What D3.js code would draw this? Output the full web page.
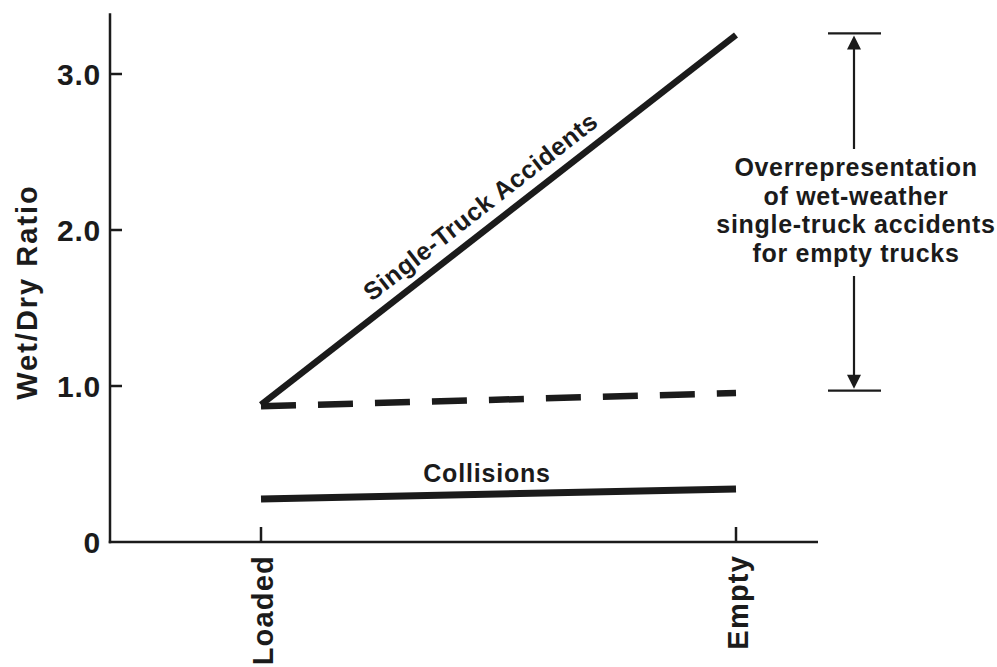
<!DOCTYPE html>
<html lang="en">
<head>
<meta charset="UTF-8">
<title>Wet/Dry Ratio - Loaded vs Empty</title>
<script src="https://d3js.org/d3.v7.min.js"></script>
<style>
    body { margin: 0; background: #fff; }
    svg { display: block; }
    text { font-family: "Liberation Sans", Arial, Helvetica, sans-serif; font-weight: bold; fill: #1b1b1b; }
</style>
</head>
<body>
<svg id="chart" width="997" height="667"></svg>
<script>
// data
const categories = ["Loaded", "Empty"];
const singleTruck = [0.88, 3.25];
const dashedRef = [0.87, 0.955];
const collisions = [0.275, 0.34];
const yTicks = [0, 1, 2, 3];
const yTickLabels = ["0", "1.0", "2.0", "3.0"];
const bracketRange = [0.97, 3.26];
const noteLines = ["Overrepresentation", "of wet-weather", "single-truck accidents", "for empty trucks"];

const ink = "#1b1b1b";
const svg = d3.select("#chart");

const x = d3.scalePoint().domain(categories).range([261, 736]);
const y = d3.scaleLinear().domain([0, 3]).range([542, 74]);
const axisLeft = 110, axisRight = 818, yTop = 3.39;

// axes
svg.append("line")
    .attr("x1", axisLeft).attr("x2", axisLeft)
    .attr("y1", y(yTop)).attr("y2", y(0) + 1.25)
    .attr("stroke", ink).attr("stroke-width", 2.5);
svg.append("line")
    .attr("x1", axisLeft - 1.25).attr("x2", axisRight)
    .attr("y1", y(0)).attr("y2", y(0))
    .attr("stroke", ink).attr("stroke-width", 2.5);

// y ticks (pointing inward)
svg.selectAll(".ytick").data(yTicks.slice(1)).enter().append("line")
    .attr("x1", axisLeft).attr("x2", axisLeft + 12)
    .attr("y1", d => y(d)).attr("y2", d => y(d))
    .attr("stroke", ink).attr("stroke-width", 2.5);
svg.selectAll(".ylab").data(yTicks).enter().append("text")
    .attr("x", 101).attr("y", d => y(d)).attr("dy", "0.36em")
    .attr("text-anchor", "end")
    .style("font-size", "30px").style("letter-spacing", "0.8px")
    .text((d, i) => yTickLabels[i]);

// x ticks
svg.selectAll(".xtick").data(categories).enter().append("line")
    .attr("x1", d => x(d)).attr("x2", d => x(d))
    .attr("y1", y(0)).attr("y2", y(0) - 15)
    .attr("stroke", ink).attr("stroke-width", 2.5);
svg.selectAll(".xlab").data(categories).enter().append("text")
    .attr("transform", d => `translate(${x(d) + 11.5},555) rotate(-90)`)
    .attr("text-anchor", "end")
    .style("font-size", "29px").style("letter-spacing", "1.2px")
    .text(d => d);

// y axis title
svg.append("text")
    .attr("transform", "translate(37,292) rotate(-90)")
    .attr("text-anchor", "middle")
    .style("font-size", "29px").style("letter-spacing", "2px")
    .text("Wet/Dry Ratio");

// series lines
const line = d3.line().x((d, i) => x(categories[i])).y(d => y(d));

svg.append("path").datum(dashedRef)
    .attr("d", line).attr("fill", "none")
    .attr("stroke", ink).attr("stroke-width", 6.5)
    .attr("stroke-dasharray", "35,22");
svg.append("path").datum(singleTruck)
    .attr("d", line).attr("fill", "none")
    .attr("stroke", ink).attr("stroke-width", 6.5);
svg.append("path").datum(collisions)
    .attr("d", line).attr("fill", "none")
    .attr("stroke", ink).attr("stroke-width", 7);

// line labels
const x0 = x(categories[0]), x1 = x(categories[1]);
const angle = Math.atan2(y(singleTruck[1]) - y(singleTruck[0]), x1 - x0) * 180 / Math.PI;
const mid = 0.49;
const lx = x0 + (x1 - x0) * mid, ly = y(singleTruck[0] + (singleTruck[1] - singleTruck[0]) * mid);
svg.append("text")
    .attr("transform", `translate(${lx},${ly}) rotate(${angle}) translate(0,-13)`)
    .attr("text-anchor", "middle")
    .style("font-size", "25px").style("letter-spacing", "0.6px")
    .text("Single-Truck Accidents");

svg.append("text")
    .attr("x", 487).attr("y", y(collisions[0] + (collisions[1] - collisions[0]) * 0.5) - 12)
    .attr("text-anchor", "middle")
    .style("font-size", "25px").style("letter-spacing", "0.8px")
    .text("Collisions");

// annotation bracket
const bx = 854, bTop = y(bracketRange[1]), bBot = y(bracketRange[0]);
const ann = svg.append("g").attr("stroke", ink).attr("stroke-width", 2.2);
ann.append("line").attr("x1", bx - 26).attr("x2", bx + 27).attr("y1", bTop).attr("y2", bTop);
ann.append("line").attr("x1", bx - 26).attr("x2", bx + 27).attr("y1", bBot).attr("y2", bBot);
ann.append("line").attr("x1", bx).attr("x2", bx).attr("y1", bTop + 10).attr("y2", 149);
ann.append("line").attr("x1", bx).attr("x2", bx).attr("y1", 276).attr("y2", bBot - 10);
svg.append("path")
    .attr("d", `M${bx},${bTop + 2}L${bx - 7},${bTop + 16}L${bx + 7},${bTop + 16}Z`)
    .attr("fill", ink);
svg.append("path")
    .attr("d", `M${bx},${bBot - 2}L${bx - 7},${bBot - 16}L${bx + 7},${bBot - 16}Z`)
    .attr("fill", ink);

svg.append("g").selectAll("text").data(noteLines).enter().append("text")
    .attr("x", 856).attr("y", (d, i) => 176 + i * 28.5)
    .attr("text-anchor", "middle")
    .style("font-size", "25px").style("letter-spacing", "0.7px")
    .text(d => d);
</script>
</body>
</html>
